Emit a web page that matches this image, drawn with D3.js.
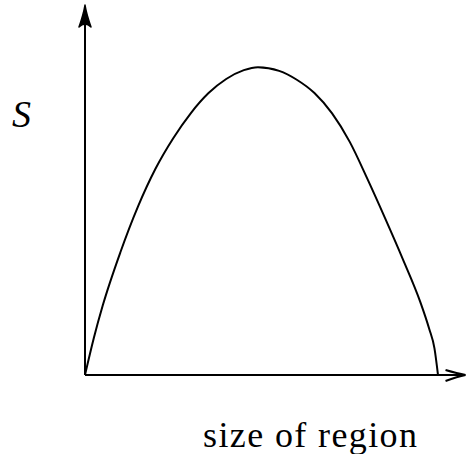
<!DOCTYPE html>
<html lang="en">
<head>
<meta charset="UTF-8">
<title>S vs size of region</title>
<script src="https://cdn.jsdelivr.net/npm/d3@7"></script>
<style>
  html, body { margin: 0; padding: 0; background: #fff; }
  svg { display: block; }
</style>
</head>
<body>
<div id="container"></div>
<script>
  // curve (size of region, S), arbitrary units
  const sizeVals = [0, 0.25, 0.5, 1, 1.5, 2, 2.5, 3, 3.5, 4, 4.5, 4.9,
                    5.5, 6, 6.5, 7, 7.5, 8, 8.5, 9, 9.5, 9.75, 9.9, 10];
  const sVals    = [0, 1.0, 1.87, 3.31, 4.55, 5.58, 6.40, 7.08, 7.62, 8.00, 8.24, 8.32,
                    8.22, 7.98, 7.62, 7.07, 6.30, 5.30, 4.24, 3.14, 1.97, 1.25, 0.72, 0];
  const xAxisEnd = 10.78;   // axis runs a little past the curve
  const yAxisEnd = 10.0;

  const width = 467, height = 454;
  const originX = 85, originY = 375;

  const x = d3.scaleLinear().domain([0, 10]).range([originX, 438]);
  const y = d3.scaleLinear().domain([0, 10]).range([originY, 5]);

  const svg = d3.select('#container').append('svg')
    .attr('width', width)
    .attr('height', height);

  const points = sizeVals.map((v, i) => [v, sVals[i]]);

  // axes
  svg.append('line')
    .attr('x1', x(0)).attr('y1', y(0))
    .attr('x2', x(xAxisEnd) - 2).attr('y2', y(0))
    .attr('stroke', '#000').attr('stroke-width', 2);

  svg.append('line')
    .attr('x1', x(0)).attr('y1', y(0))
    .attr('x2', x(0)).attr('y2', y(yAxisEnd) + 2)
    .attr('stroke', '#000').attr('stroke-width', 2);

  // latex-ish arrow heads
  const tipX = [x(xAxisEnd), y(0)];
  svg.append('path')
    .attr('d', `M${tipX[0] - 20},${tipX[1] - 5} Q${tipX[0] - 8},${tipX[1] - 1.5} ${tipX[0]},${tipX[1]}` +
               ` Q${tipX[0] - 8},${tipX[1] + 1.5} ${tipX[0] - 20},${tipX[1] + 6}`)
    .attr('fill', 'none').attr('stroke', '#000').attr('stroke-width', 2);

  const tipY = [x(0), y(yAxisEnd)];
  svg.append('path')
    .attr('d', `M${tipY[0] - 6},${tipY[1] + 22} Q${tipY[0] - 1.5},${tipY[1] + 9} ${tipY[0]},${tipY[1]}` +
               ` Q${tipY[0] + 1.5},${tipY[1] + 9} ${tipY[0] + 6},${tipY[1] + 22}` +
               ` Q${tipY[0]},${tipY[1] + 16} ${tipY[0] - 6},${tipY[1] + 22}Z`)
    .attr('fill', '#000').attr('stroke', '#000').attr('stroke-width', 1.5)
    .attr('stroke-linejoin', 'round');

  // the curve
  const line = d3.line()
    .x(d => x(d[0]))
    .y(d => y(d[1]))
    .curve(d3.curveMonotoneX);

  svg.append('path')
    .datum(points)
    .attr('d', line)
    .attr('fill', 'none')
    .attr('stroke', '#000')
    .attr('stroke-width', 2);

  // labels
  svg.append('text')
    .attr('x', 12).attr('y', 127)
    .attr('font-family', 'Liberation Serif, DejaVu Serif, serif')
    .attr('font-style', 'italic')
    .attr('font-size', 38)
    .text('S');

  svg.append('text')
    .attr('x', 203).attr('y', 447)
    .attr('font-family', 'Liberation Serif, DejaVu Serif, serif')
    .attr('font-size', 36)
    .attr('textLength', 214)
    .attr('lengthAdjust', 'spacing')
    .text('size of region');
</script>
</body>
</html>
